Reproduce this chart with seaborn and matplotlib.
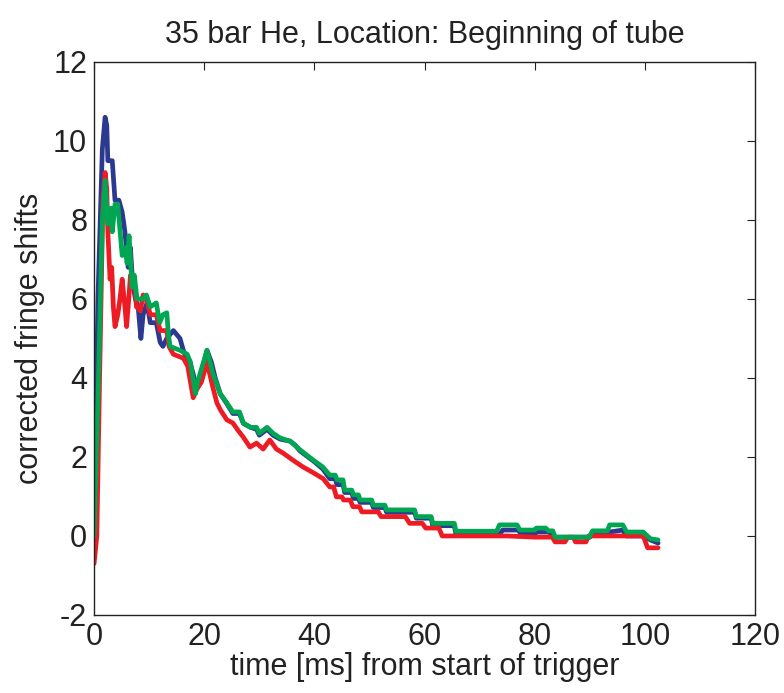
import matplotlib
matplotlib.use("Agg")
import matplotlib.pyplot as plt
import seaborn as sns
import pandas as pd

# ---- data ----
blue_t = [0, 0.7, 1.5, 2.0, 2.3, 2.5, 3.3, 3.8, 4.5, 5.1, 5.6, 6.2, 6.6, 7.0, 7.5, 8.0, 8.5, 8.9, 9.6, 10.2,
          11.3, 12.0, 12.5, 13.2, 14.4, 15.6, 16.2, 16.8, 17.4, 18.0, 18.5, 19.2, 20.5, 21.3, 22.0, 22.9, 24.1,
          25.2, 26.4, 27.1, 28.4, 29.5, 30.0, 31.4, 32.5, 33.8, 35.6, 36.5, 37.4, 39.8, 41.5,
          42.8, 43.8, 44.1, 45.2, 45.5, 46.8, 47.1, 48.0, 48.3, 50.4, 50.7, 52.8, 53.1, 58.2, 58.5, 61.2,
          61.5, 65.4, 65.7, 70, 73.7, 74.2, 77, 77.5, 80, 80.4, 82.5, 83.0, 83.7, 90,
          90.5, 93.6, 96, 96.6, 99.7, 101, 102.4]
blue_y = [0, 6.0, 9.8, 10.6, 10.4, 9.5, 9.5, 8.5, 8.5, 8.2, 7.7, 6.8, 7.3, 6.4, 6.0, 5.8, 5.0, 5.6, 5.9, 5.4,
          5.4, 4.9, 4.8, 5.0, 5.2, 5.0, 4.7, 4.5, 4.4, 4.1, 3.8, 4.0, 4.7, 4.4, 4.0, 3.6, 3.35,
          3.1, 3.1, 2.85, 2.75, 2.7, 2.55, 2.7, 2.55, 2.45, 2.4, 2.3, 2.15, 1.9, 1.7,
          1.45, 1.45, 1.3, 1.3, 1.1, 1.1, 0.95, 0.95, 0.85, 0.85, 0.72, 0.72, 0.6, 0.6, 0.45, 0.45,
          0.26, 0.26, 0.05, 0.05, 0.05, 0.15, 0.15, 0.05, 0.05, 0.1, 0.1, 0.05, -0.03, -0.03,
          0.05, 0.1, 0.15, 0.0, 0.0, -0.1, -0.18]

red_t = [0, 0.5, 1.0, 1.6, 2.0, 2.3, 2.5, 2.9, 3.2, 3.5, 3.8, 4.3, 4.7, 5.1, 5.6, 5.9, 6.3, 6.6, 7.2, 7.7,
         8.4, 8.9, 9.5, 10.2, 11.3, 12.0, 13.2, 13.6, 14.4, 16.2, 17.0, 18.0, 18.6, 19.5, 20.5, 21.5, 22.3,
         22.9, 24.1, 25.2, 26.1, 27.1, 28.3, 29.5, 30.7, 31.9, 33.1, 34.3, 36.1, 37.9, 39.8, 41.6,
         42.8, 43.5, 44.0, 45.0, 45.3, 46.5, 47.0, 48.2, 48.6, 51.6, 52.1, 56.5, 57.3, 59.6, 60.2, 62.6,
         63.2, 70, 75, 80, 83.2, 83.7, 85.5, 86, 87, 87.4, 89.3,
         89.8, 99.7, 100.5, 102.4]
red_y = [-0.7, 0, 4, 8.5, 9.2, 8.8, 7.7, 6.5, 6.8, 5.8, 5.3, 5.6, 6.0, 6.5, 5.8, 5.3, 6.0, 6.6, 6.6, 5.8,
         5.7, 6.1, 6.0, 5.6, 5.6, 5.2, 5.2, 4.8, 4.6, 4.5, 4.3, 3.5, 3.7, 3.9, 4.4, 3.8, 3.37,
         3.2, 2.94, 2.86, 2.68, 2.5, 2.25, 2.35, 2.2, 2.43, 2.2, 2.1, 1.92, 1.75, 1.6, 1.45,
         1.24, 1.24, 0.99, 0.99, 0.91, 0.91, 0.74, 0.74, 0.61, 0.61, 0.49, 0.49, 0.32, 0.32, 0.2, 0.2,
         0.0, 0.0, 0.0, -0.03, -0.03, -0.15, -0.15, -0.03, -0.03, -0.15, -0.15,
         0.0, 0.0, -0.3, -0.3]

green_t = [0, 0.8, 1.5, 2.0, 2.5, 3.1, 3.3, 3.8, 4.3, 5.1, 5.6, 6.0, 6.35, 6.9, 7.3, 7.8, 8.9, 9.5, 10.2, 11.3,
           11.9, 12.5, 13.2, 13.5, 13.8, 15.6, 16.9, 17.5, 18.4, 18.8, 20.5, 21.6, 22.9, 24.1, 25.2, 26.4, 27.1,
           28.4, 29.5, 30.0, 31.4, 32.5, 33.8, 35.6, 37.4, 39.8, 41.5,
           42.8, 43.8, 44.1, 45.2, 45.5, 46.8, 47.1, 48.0, 48.3, 50.4, 50.7, 52.8, 53.1, 58.2, 58.5, 61.2,
           61.5, 65.4, 65.7, 73.1, 73.6, 76.8, 77.3, 80, 80.3, 82, 82.5, 83.3, 83.7, 89.9, 90.5, 93.2,
           93.6, 96, 96.7, 99.7, 101, 102.4]
green_y = [0, 4, 8, 9.0, 7.9, 8.3, 7.7, 8.4, 8.4, 7.1, 7.3, 6.9, 7.6, 6.3, 6.6, 6.0, 6.0, 6.1, 5.8, 5.9,
           5.4, 5.6, 5.65, 5.1, 4.8, 4.7, 4.6, 4.4, 3.6, 3.9, 4.7, 4.1, 3.6, 3.37, 3.14, 3.14, 2.86,
           2.75, 2.75, 2.6, 2.75, 2.6, 2.48, 2.4, 2.18, 1.92, 1.75,
           1.54, 1.54, 1.42, 1.42, 1.16, 1.16, 1.04, 1.04, 0.91, 0.91, 0.78, 0.78, 0.66, 0.66, 0.49, 0.49,
           0.32, 0.32, 0.12, 0.12, 0.28, 0.28, 0.15, 0.15, 0.2, 0.2, 0.13, 0.13, -0.03, -0.03, 0.13, 0.13,
           0.28, 0.28, 0.1, 0.1, -0.07, -0.1]

title = "35 bar He, Location: Beginning of tube"
xlabel = "time [ms] from start of trigger"
ylabel = "corrected fringe shifts"
xticks = [0, 20, 40, 60, 80, 100, 120]
yticks = [-2, 0, 2, 4, 6, 8, 10, 12]

sns.set_style("white")
plt.rcParams['font.family'] = ['Liberation Sans', 'DejaVu Sans']
plt.rcParams['axes.unicode_minus'] = False

fig = plt.figure(figsize=(7.84, 6.93), dpi=100)
ax = fig.add_axes([0.120, 0.1126, 0.843, 0.798])

series = [("blue", blue_t, blue_y, "#2B3990"),
          ("red", red_t, red_y, "#ED1C24"),
          ("green", green_t, green_y, "#00A651")]
for name, t, y, c in series:
    df = pd.DataFrame({"t": t, "y": y})
    sns.lineplot(data=df, x="t", y="y", ax=ax, sort=False, estimator=None,
                 color=c, linewidth=3.4, solid_joinstyle="round")

ax.set_xlim(0, 120)
ax.set_ylim(-2, 12)
ax.set_xticks(xticks)
ax.set_yticks(yticks)
ax.tick_params(direction="in", top=True, right=True, length=6, width=0.8,
               labelsize=22, pad=5, color="#222222", labelcolor="#222222")
for s in ax.spines.values():
    s.set_linewidth(1.0)
    s.set_color("#222222")
ax.set_xlabel(xlabel, fontsize=22, labelpad=0, color="#222222")
ax.set_ylabel(ylabel, fontsize=22, labelpad=6, color="#222222")
ax.set_title(title, fontsize=22, pad=14, color="#222222")

fig.savefig("out.png", dpi=100)
